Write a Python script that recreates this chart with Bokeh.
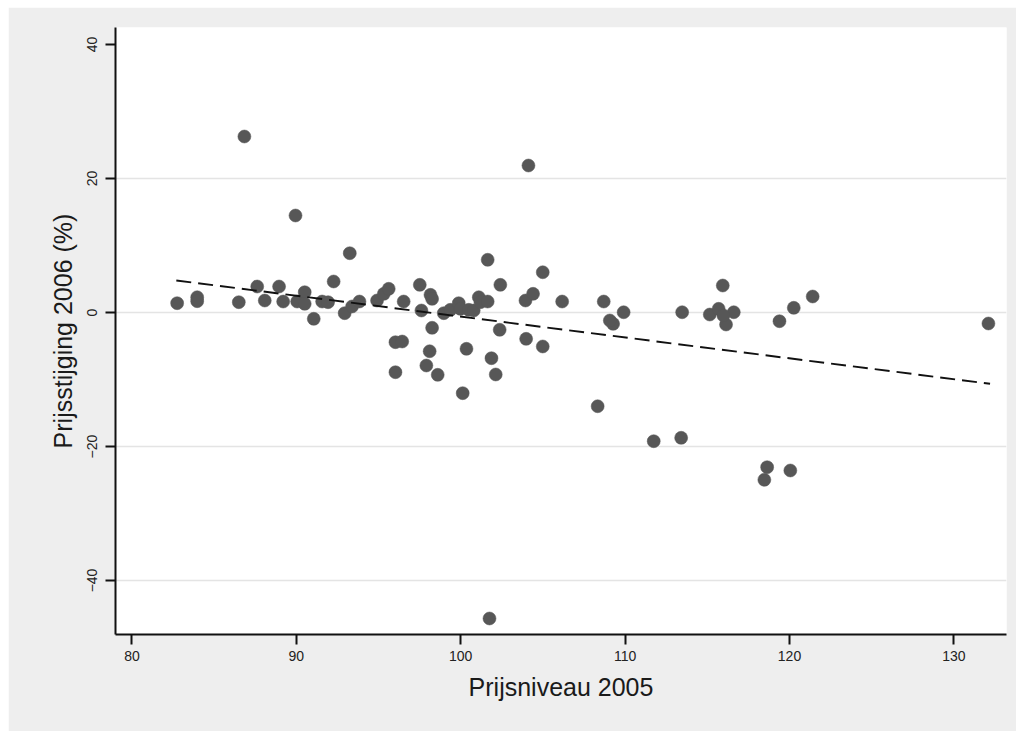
from bokeh.plotting import figure
from bokeh.models import Range1d, FixedTicker
from bokeh.embed import file_html
from bokeh.resources import INLINE

# Price level 2005 (x) against price increase 2006 in % (y)
prijsniveau_2005 = [
    82.75, 83.97, 83.97, 86.50, 87.62, 88.08, 88.95, 89.20, 90.05, 90.51,
    90.51, 91.06, 91.57, 91.93, 92.27, 93.25, 92.94, 93.39, 93.84, 94.91,
    95.32, 95.62, 96.53, 96.03, 96.44, 96.03, 97.51, 98.16, 98.26, 97.61,
    98.26, 98.11, 97.91, 98.60, 98.97, 99.37, 99.88, 99.98, 100.49, 100.79,
    101.10, 101.20, 101.64, 101.64, 102.41, 102.37, 100.35, 101.87, 102.13, 100.12,
    103.94, 104.40, 103.98, 104.99, 104.99, 106.17, 108.70, 109.27, 109.07, 109.91,
    108.33, 113.47, 111.74, 113.41, 115.15, 115.69, 115.94, 116.14, 116.61, 115.98,
    119.39, 120.26, 121.41, 86.84, 89.95, 104.12, 101.75, 118.64, 118.47, 120.05,
    132.10,
]
prijsstijging_2006 = [
    1.39, 2.28, 1.69, 1.54, 3.88, 1.79, 3.88, 1.64, 1.64, 3.03,
    1.30, -0.94, 1.64, 1.54, 4.63, 8.85, -0.10, 0.90, 1.64, 1.79,
    2.79, 3.54, 1.64, -4.43, -4.33, -8.91, 4.13, 2.64, 2.04, 0.30,
    -2.28, -5.78, -7.91, -9.30, -0.10, 0.40, 1.39, 0.55, 0.40, 0.30,
    2.28, 1.54, 1.64, 7.87, 4.13, -2.58, -5.42, -6.82, -9.25, -12.04,
    1.79, 2.79, -3.93, 6.01, -5.07, 1.64, 1.64, -1.69, -1.19, 0.04,
    -13.99, 0.04, -19.21, -18.70, -0.30, 0.55, 4.03, -1.79, 0.04, -0.45,
    -1.30, 0.70, 2.39, 26.27, 14.48, 21.94, -45.67, -23.09, -24.97, -23.58,
    -1.64,
]

# Linear fit line endpoints
fit_x = [82.7, 132.2]
fit_y = [4.78, -10.64]

x_ticks = [80, 90, 100, 110, 120, 130]
y_ticks = [-40, -20, 0, 20, 40]
grid_ticks = [-40, -20, 0, 20]

FONT = "Liberation Sans"

p = figure(
    width=1008, height=724,
    output_backend="svg", toolbar_location=None,
    x_range=Range1d(79.0, 133.2), y_range=Range1d(-48.06, 42.54),
    min_border_left=107, min_border_right=10,
    min_border_top=20, min_border_bottom=97,
    background_fill_color="#ffffff", border_fill_color="#eeeeee",
)
p.margin = (7, 0, 0, 8)
p.outline_line_color = None

p.scatter(prijsniveau_2005, prijsstijging_2006, size=13,
          fill_color="#575757", line_color="#575757", line_width=0.5)
p.line(fit_x, fit_y, line_color="#111111", line_width=1.9, line_dash="15 7")

p.xgrid.visible = False
p.ygrid.ticker = FixedTicker(ticks=grid_ticks)
p.ygrid.grid_line_color = "#e4e4e4"
p.ygrid.grid_line_width = 1.5

for ax in (p.xaxis[0], p.yaxis[0]):
    ax.axis_line_color = "#111111"
    ax.axis_line_width = 2
    ax.major_tick_line_color = "#111111"
    ax.major_tick_line_width = 2
    ax.major_tick_out = 10
    ax.major_tick_in = 0
    ax.minor_tick_line_color = None
    ax.major_label_text_font = FONT
    ax.major_label_text_font_size = "14px"
    ax.major_label_text_color = "#222222"
    ax.axis_label_text_font = FONT
    ax.axis_label_text_font_size = "25px"
    ax.axis_label_text_font_style = "normal"
    ax.axis_label_text_color = "#1a1a1a"

p.xaxis.ticker = FixedTicker(ticks=x_ticks)
p.yaxis.ticker = FixedTicker(ticks=y_ticks)
p.xaxis.axis_label = "Prijsniveau 2005"
p.yaxis.axis_label = "Prijsstijging 2006 (%)"
p.yaxis.major_label_orientation = "vertical"
p.xaxis.major_label_standoff = 6
p.yaxis.major_label_standoff = 8
p.xaxis.axis_label_standoff = 9
p.yaxis.axis_label_standoff = 8

open("out.html", "w").write(file_html(p, INLINE))
